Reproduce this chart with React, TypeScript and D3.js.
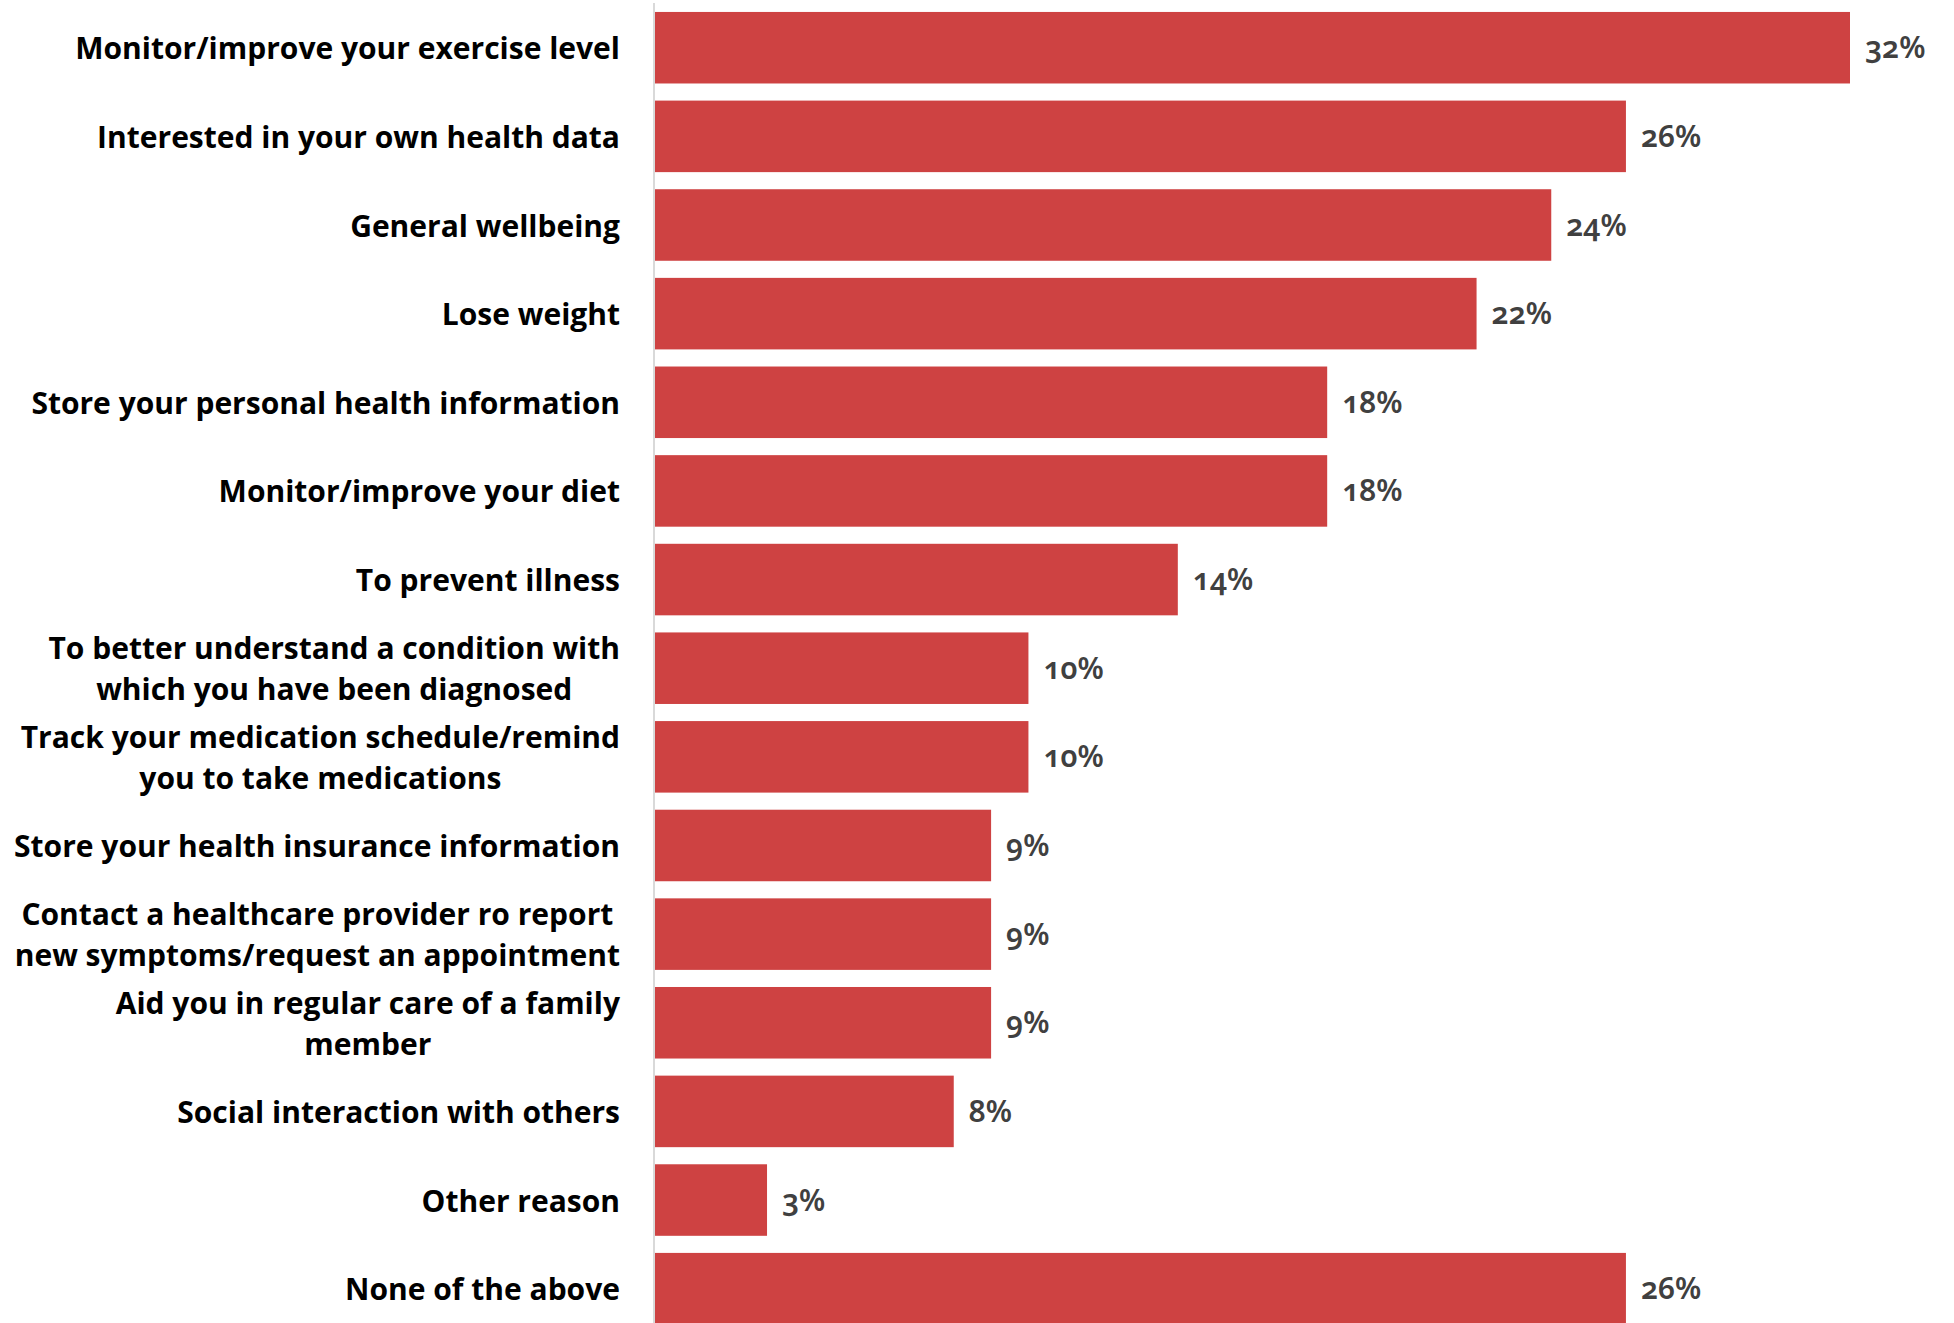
import React, { useEffect, useRef } from "react";
import * as d3 from "d3";

const categories: string[] = [
  "Monitor/improve your exercise level",
  "Interested in your own health data",
  "General wellbeing",
  "Lose weight",
  "Store your personal health information",
  "Monitor/improve your diet",
  "To prevent illness",
  "To better understand a condition with\nwhich you have been diagnosed",
  "Track your medication schedule/remind\nyou to take medications",
  "Store your health insurance information",
  "Contact a healthcare provider ro report\nnew symptoms/request an appointment",
  "Aid you in regular care of a family\nmember",
  "Social interaction with others",
  "Other reason",
  "None of the above",
];

const values: number[] = [32, 26, 24, 22, 18, 18, 14, 10, 10, 9, 9, 9, 8, 3, 26];

const W = 1954;
const H = 1323;

export default function App() {
  const ref = useRef<SVGSVGElement | null>(null);

  useEffect(() => {
    const svg = d3.select(ref.current);
    svg.selectAll("*").remove();

    const x = d3.scaleLinear().domain([0, 32]).range([655, 1850]);
    const step = 88.64;
    const y = d3
      .scaleBand<string>()
      .domain(categories)
      .range([3.4, 3.4 + step * categories.length])
      .paddingInner(0.193)
      .paddingOuter(0.0965);

    svg.append("rect").attr("width", W).attr("height", H).attr("fill", "#ffffff");

    // bars
    svg
      .append("g")
      .selectAll("rect")
      .data(categories)
      .join("rect")
      .attr("x", x(0))
      .attr("y", (d) => y(d)!)
      .attr("width", (_d, i) => x(values[i]) - x(0))
      .attr("height", y.bandwidth())
      .attr("fill", "#CE4242");

    // axis line
    svg
      .append("line")
      .attr("x1", x(0) - 1)
      .attr("x2", x(0) - 1)
      .attr("y1", 3)
      .attr("y2", H)
      .attr("stroke", "#d9d9d9")
      .attr("stroke-width", 2);

    // value labels
    svg
      .append("g")
      .selectAll("text")
      .data(categories)
      .join("text")
      .attr("x", (_d, i) => x(values[i]) + 15)
      .attr("y", (d) => y(d)! + y.bandwidth() / 2)
      .attr("dy", "0.35em")
      .attr("font-family", "'Noto Sans', sans-serif")
      .style("font-feature-settings", "'onum' 1")
      .attr("font-size", 30)
      .attr("font-weight", 600)
      .attr("fill", "#404040")
      .text((_d, i) => `${values[i]}%`);

    // category labels
    const labelRight = 620;
    const lineH = 41;
    const lg = svg.append("g");
    categories.forEach((c) => {
      const lines = c.split("\n");
      const cy = y(c)! + y.bandwidth() / 2 + 1;
      const t = lg
        .append("text")
        .attr("font-family", "'Open Sans', sans-serif")
        .attr("font-weight", 700)
        .attr("font-size", 30)
        .attr("fill", "#000000")
        .attr("text-anchor", "middle");
      const tspans = lines.map((ln, j) =>
        t
          .append("tspan")
          .attr("y", cy + (j - (lines.length - 1) / 2) * lineH)
          .attr("dy", "0.35em")
          .text(ln)
      );
      let maxW = 0;
      tspans.forEach((ts) => {
        const n = ts.node() as SVGTextContentElement;
        maxW = Math.max(maxW, n.getComputedTextLength());
      });
      tspans.forEach((ts) => ts.attr("x", labelRight - maxW / 2));
    });
  }, []);

  return (
    <svg
      ref={ref}
      width={W}
      height={H}
      style={{ position: "absolute", left: 0, top: 0, display: "block" }}
    />
  );
}
